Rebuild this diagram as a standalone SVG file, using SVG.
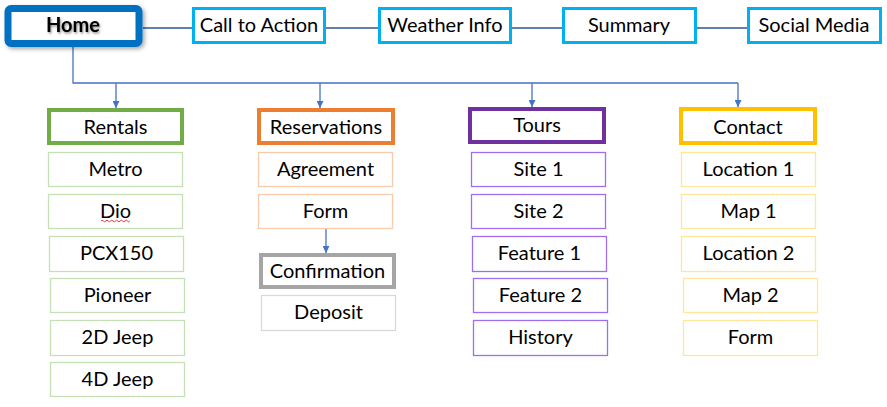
<svg xmlns="http://www.w3.org/2000/svg" width="887" height="407" viewBox="0 0 887 407">
<defs>
<filter id="sh" x="-20%" y="-30%" width="140%" height="160%">
<feDropShadow dx="2" dy="2" stdDeviation="2" flood-color="#000" flood-opacity="0.35"/>
</filter>
<filter id="tsh" x="-20%" y="-30%" width="140%" height="160%">
<feDropShadow dx="1" dy="1.5" stdDeviation="1.2" flood-color="#000" flood-opacity="0.45"/>
</filter>
<marker id="arr" viewBox="0 0 10 10" refX="10" refY="5" markerWidth="7" markerHeight="7" markerUnits="userSpaceOnUse" orient="auto">
<path d="M0,0 L10,5 L0,10 z" fill="#4472C4"/>
</marker>
</defs>
<style>
text{font-family:Lato,"Open Sans","Liberation Sans",sans-serif;font-size:20px;fill:#000;text-anchor:middle}
rect{fill:#fff}
.top{stroke:#00B0F0;stroke-width:3}
.cat{stroke-width:4}
.sub{stroke-width:1.3}
.link{stroke:#2F5597;stroke-width:1.3;fill:none}
.tree{stroke:#4472C4;stroke-width:1.3;fill:none}
</style>
<g id="connectors">
<line class="link" x1="143" y1="28" x2="192" y2="28"/>
<line class="link" x1="326" y1="28" x2="378" y2="28"/>
<line class="link" x1="512" y1="28" x2="562" y2="28"/>
<line class="link" x1="697" y1="28" x2="747" y2="28"/>
<polyline class="tree" points="73,46 73,83 738,83"/>
<line class="tree" x1="116" y1="83" x2="116" y2="108" marker-end="url(#arr)"/>
<line class="tree" x1="320" y1="83" x2="320" y2="108" marker-end="url(#arr)"/>
<line class="tree" x1="532" y1="83" x2="532" y2="107" marker-end="url(#arr)"/>
<line class="tree" x1="738" y1="83" x2="738" y2="107" marker-end="url(#arr)"/>
<line class="tree" x1="326" y1="229" x2="326" y2="253" marker-end="url(#arr)"/>
</g>
<g id="home">
<rect x="8" y="8.5" width="131" height="35" rx="3" fill="#fff" stroke="#0070C0" stroke-width="7" filter="url(#sh)"/>
<text x="73" y="32" font-weight="bold" filter="url(#tsh)">Home</text>
</g>
<g id="call-to-action"><rect class="top" x="193.5" y="8.5" width="131" height="34"/><text x="259" y="32">Call to Action</text></g>
<g id="weather-info"><rect class="top" x="379.5" y="8.5" width="131" height="34"/><text x="445" y="32">Weather Info</text></g>
<g id="summary"><rect class="top" x="563.5" y="8.5" width="132" height="34"/><text x="629" y="32">Summary</text></g>
<g id="social-media"><rect class="top" x="748.5" y="8.5" width="132" height="34"/><text x="814" y="32">Social Media</text></g>

<g id="rentals"><rect class="cat" x="49" y="110" width="133" height="33" stroke="#70AD47"/><text x="115.5" y="134">Rentals</text></g>
<g id="metro"><rect class="sub" x="48.5" y="152.5" width="134" height="34" stroke="#C5E0B4"/><text x="115.5" y="176">Metro</text></g>
<g id="dio"><rect class="sub" x="48.5" y="194.5" width="134" height="34" stroke="#C5E0B4"/><text x="115.5" y="218">Dio</text>
<path d="M101,221 q1.2,-1.6 2.4,0 t2.4,0 t2.4,0 t2.4,0 t2.4,0 t2.4,0 t2.4,0 t2.4,0 t2.4,0 t2.4,0 t2.4,0 t2.4,0" fill="none" stroke="#E02020" stroke-width="0.9"/></g>
<g id="pcx150"><rect class="sub" x="49.5" y="236.5" width="134" height="35" stroke="#C5E0B4"/><text x="116.5" y="260">PCX150</text></g>
<g id="pioneer"><rect class="sub" x="50.5" y="278.5" width="134" height="34" stroke="#C5E0B4"/><text x="117.5" y="302">Pioneer</text></g>
<g id="jeep-2d"><rect class="sub" x="50.5" y="320.5" width="134" height="35" stroke="#C5E0B4"/><text x="117.5" y="344">2D Jeep</text></g>
<g id="jeep-4d"><rect class="sub" x="50.5" y="362.5" width="134" height="34" stroke="#C5E0B4"/><text x="117.5" y="386">4D Jeep</text></g>

<g id="reservations"><rect class="cat" x="259" y="110" width="134" height="33" stroke="#ED7D31"/><text x="326" y="134">Reservations</text></g>
<g id="agreement"><rect class="sub" x="258.5" y="152.5" width="134" height="34" stroke="#F8CBAD"/><text x="325.5" y="176">Agreement</text></g>
<g id="form-res"><rect class="sub" x="258.5" y="194.5" width="134" height="34" stroke="#F8CBAD"/><text x="325.5" y="218">Form</text></g>
<g id="confirmation"><rect class="cat" x="261" y="255" width="133" height="32" stroke="#A5A5A5"/><text x="327.5" y="278">Confirmation</text></g>
<g id="deposit"><rect class="sub" x="261.5" y="295.5" width="134" height="35" stroke="#D9D9D9"/><text x="328.5" y="319">Deposit</text></g>

<g id="tours"><rect class="cat" x="470" y="109" width="134" height="33" stroke="#7030A0"/><text x="537" y="132">Tours</text></g>
<g id="site-1"><rect class="sub" x="471.5" y="152.5" width="134" height="34" stroke="#9F6FEF"/><text x="538.5" y="176">Site 1</text></g>
<g id="site-2"><rect class="sub" x="471.5" y="194.5" width="134" height="34" stroke="#9F6FEF"/><text x="538.5" y="218">Site 2</text></g>
<g id="feature-1"><rect class="sub" x="472.5" y="236.5" width="134" height="35" stroke="#9F6FEF"/><text x="539.5" y="260">Feature 1</text></g>
<g id="feature-2"><rect class="sub" x="473.5" y="278.5" width="134" height="34" stroke="#9F6FEF"/><text x="540.5" y="302">Feature 2</text></g>
<g id="history"><rect class="sub" x="473.5" y="320.5" width="134" height="35" stroke="#9F6FEF"/><text x="540.5" y="344">History</text></g>

<g id="contact"><rect class="cat" x="681" y="109" width="134" height="34" stroke="#FFC000"/><text x="748" y="134">Contact</text></g>
<g id="location-1"><rect class="sub" x="681.5" y="152.5" width="134" height="34" stroke="#FFE699"/><text x="748.5" y="176">Location 1</text></g>
<g id="map-1"><rect class="sub" x="681.5" y="194.5" width="134" height="34" stroke="#FFE699"/><text x="748.5" y="218">Map 1</text></g>
<g id="location-2"><rect class="sub" x="681.5" y="236.5" width="134" height="35" stroke="#FFE699"/><text x="748.5" y="260">Location 2</text></g>
<g id="map-2"><rect class="sub" x="683.5" y="278.5" width="134" height="34" stroke="#FFE699"/><text x="750.5" y="302">Map 2</text></g>
<g id="form-contact"><rect class="sub" x="683.5" y="320.5" width="134" height="35" stroke="#FFE699"/><text x="750.5" y="344">Form</text></g>
</svg>
